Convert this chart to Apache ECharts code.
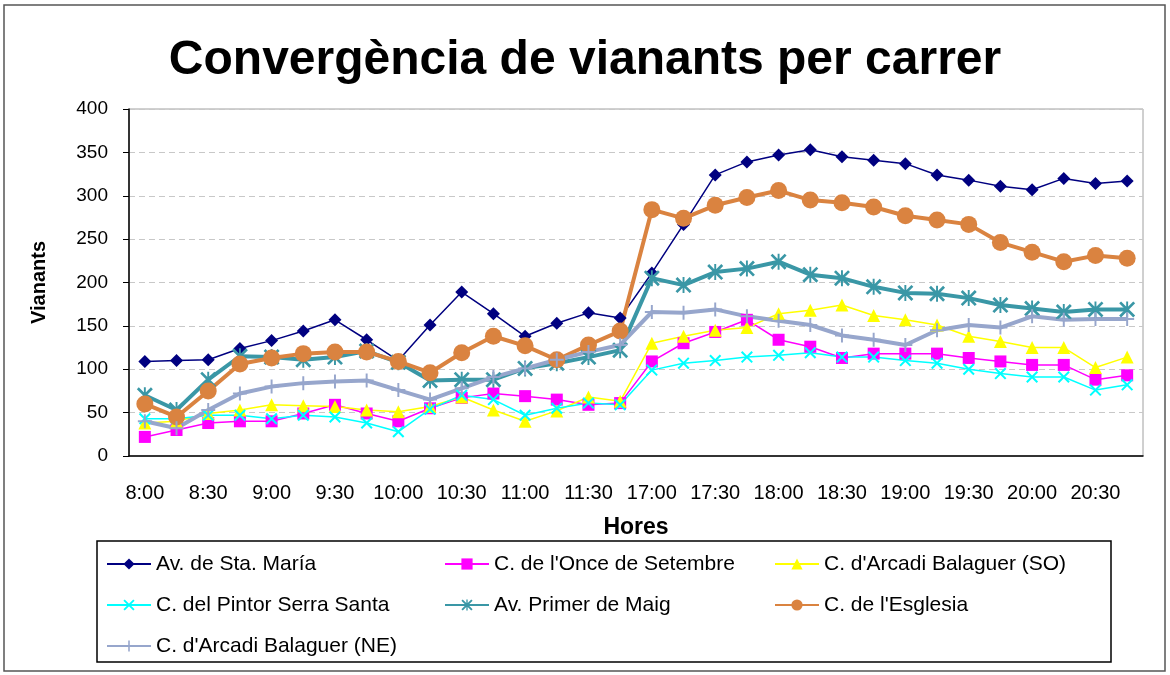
<!DOCTYPE html>
<html>
<head>
<meta charset="utf-8">
<script src="https://cdn.jsdelivr.net/npm/echarts@6/dist/echarts.min.js"></script>
<style>
  html, body { margin: 0; padding: 0; background: #fff; }
  #main { width: 1170px; height: 675px; }
</style>
</head>
<body>
<div id="main"></div>
<script>
// hores (cada 15 minuts, matí i tarda)
var hores = ['8:00', '8:15', '8:30', '8:45', '9:00', '9:15', '9:30', '9:45',
  '10:00', '10:15', '10:30', '10:45', '11:00', '11:15', '11:30', '11:45',
  '17:00', '17:15', '17:30', '17:45', '18:00', '18:15', '18:30', '18:45',
  '19:00', '19:15', '19:30', '19:45', '20:00', '20:15', '20:30', '20:45'];

var staMaria = [109, 110, 111, 124, 133, 144, 157, 134, 110, 151, 189, 164, 138, 153, 165, 159,
  211, 267, 324, 339, 347, 353, 345, 341, 337, 324, 318, 311, 307, 320, 314, 317];
var onceSetembre = [22, 30, 38, 40, 40, 49, 59, 49, 40, 55, 67, 72, 69, 65, 59, 61,
  109, 130, 143, 157, 134, 126, 113, 118, 118, 118, 113, 109, 105, 105, 88, 93];
var arcadiSO = [38, 40, 49, 53, 59, 58, 57, 53, 51, 57, 68, 53, 40, 52, 68, 63,
  130, 138, 145, 148, 164, 168, 174, 162, 157, 151, 138, 132, 125, 125, 102, 114];
var pintorSerra = [43, 43, 47, 47, 43, 47, 45, 38, 28, 54, 70, 65, 47, 55, 61, 59,
  99, 107, 110, 114, 116, 119, 114, 114, 110, 107, 100, 95, 91, 91, 76, 82];
var primerMaig = [70, 53, 88, 115, 114, 111, 114, 121, 108, 87, 88, 88, 101, 107, 114, 122,
  205, 197, 212, 216, 224, 209, 205, 195, 188, 187, 182, 174, 170, 166, 169, 169];
var esglesia = [60, 45, 75, 106, 113, 118, 120, 120, 109, 96, 119, 138, 127, 111, 128, 144,
  284, 274, 289, 298, 306, 295, 292, 287, 277, 272, 267, 246, 235, 224, 231, 228];
var arcadiNE = [40, 32, 53, 72, 80, 84, 86, 87, 76, 65, 78, 91, 101, 111, 120, 128,
  166, 165, 169, 161, 156, 151, 139, 134, 128, 145, 151, 148, 161, 157, 158, 158];

var noms = ['Av. de Sta. María', "C. de l'Once de Setembre", "C. d'Arcadi Balaguer (SO)",
  'C. del Pintor Serra Santa', 'Av. Primer de Maig', "C. de l'Esglesia", "C. d'Arcadi Balaguer (NE)"];

var simbolX = 'path://M0,1.2L1.2,0L10,8.8L8.8,10Z M8.8,0L10,1.2L1.2,10L0,8.8Z';
var simbolAst = 'path://M0,1.2L1.2,0L10,8.8L8.8,10Z M8.8,0L10,1.2L1.2,10L0,8.8Z M4.4,0L5.6,0L5.6,10L4.4,10Z';
var simbolMes = 'path://M4.3,0L5.7,0L5.7,10L4.3,10Z M0,4.3L10,4.3L10,5.7L0,5.7Z';

var chart = echarts.init(document.getElementById('main'));

function serie(nom, dades, color, amplada, simbol, mida) {
  return {
    name: nom,
    type: 'line',
    data: dades,
    symbol: simbol,
    symbolSize: mida,
    showAllSymbol: true,
    lineStyle: { color: color, width: amplada },
    itemStyle: { color: color },
    emphasis: { disabled: true },
    animation: false
  };
}

function llegenda(dades, left) {
  return {
    orient: 'vertical',
    left: left,
    top: 553,
    itemGap: 19,
    itemWidth: 44,
    itemHeight: 14,
    padding: 0,
    data: dades,
    textStyle: { fontFamily: 'Liberation Sans', fontSize: 21, lineHeight: 22, color: '#000' }
  };
}

var option = {
  backgroundColor: '#ffffff',
  title: {
    text: 'Convergència de vianants per carrer',
    left: 'center',
    top: 32,
    textStyle: { fontFamily: 'Liberation Sans', fontSize: 48, fontWeight: 'bold', color: '#000' }
  },
  legend: [
    llegenda([noms[0], noms[3], noms[6]], 106),
    llegenda([noms[1], noms[4]], 444),
    llegenda([noms[2], noms[5]], 774)
  ],
  grid: {
    left: 129, right: 27, top: 109, bottom: 219,
    show: true, borderColor: '#a0a0a0', borderWidth: 1
  },
  xAxis: {
    type: 'category',
    data: hores,
    boundaryGap: true,
    name: 'Hores',
    nameLocation: 'middle',
    nameGap: 60,
    nameTextStyle: { fontFamily: 'Liberation Sans', fontSize: 23, fontWeight: 'bold', color: '#000' },
    axisLine: { lineStyle: { color: '#000', width: 1.5 } },
    axisTick: { interval: 0, length: 6, lineStyle: { color: '#000' } },
    axisLabel: { interval: 1, margin: 27, fontFamily: 'Liberation Sans', fontSize: 20, color: '#000' }
  },
  yAxis: {
    type: 'value',
    min: 0,
    max: 400,
    interval: 50,
    name: 'Vianants',
    nameLocation: 'middle',
    nameGap: 80,
    nameTextStyle: { fontFamily: 'Liberation Sans', fontSize: 20, fontWeight: 'bold', color: '#000' },
    axisLine: { show: true, lineStyle: { color: '#000', width: 1.5 } },
    axisTick: { show: true, length: 6, lineStyle: { color: '#000' } },
    axisLabel: { margin: 21, fontFamily: 'Liberation Sans', fontSize: 19, color: '#000' },
    splitLine: { lineStyle: { color: '#c8c8c8', type: [6, 4] } }
  },
  graphic: [
    {
      type: 'rect',
      shape: { x: 4, y: 5, width: 1161, height: 666 },
      style: { fill: 'none', stroke: '#555', lineWidth: 1.5 },
      silent: true
    },
    {
      type: 'rect',
      shape: { x: 97, y: 541, width: 1014, height: 121 },
      style: { fill: 'none', stroke: '#000', lineWidth: 1.5 },
      silent: true
    }
  ],
  series: [
    serie(noms[0], staMaria, '#000080', 1.5, 'diamond', 13),
    serie(noms[1], onceSetembre, '#ff00ff', 1.5, 'rect', 12),
    serie(noms[2], arcadiSO, '#ffff00', 1.5, 'triangle', 13),
    serie(noms[3], pintorSerra, '#00ffff', 1.5, simbolX, 12),
    serie(noms[4], primerMaig, '#3a97a6', 4, simbolAst, 16),
    serie(noms[5], esglesia, '#da8340', 4, 'circle', 17),
    serie(noms[6], arcadiNE, '#97a6cc', 4, simbolMes, 14)
  ]
};

chart.setOption(option);
</script>
</body>
</html>
